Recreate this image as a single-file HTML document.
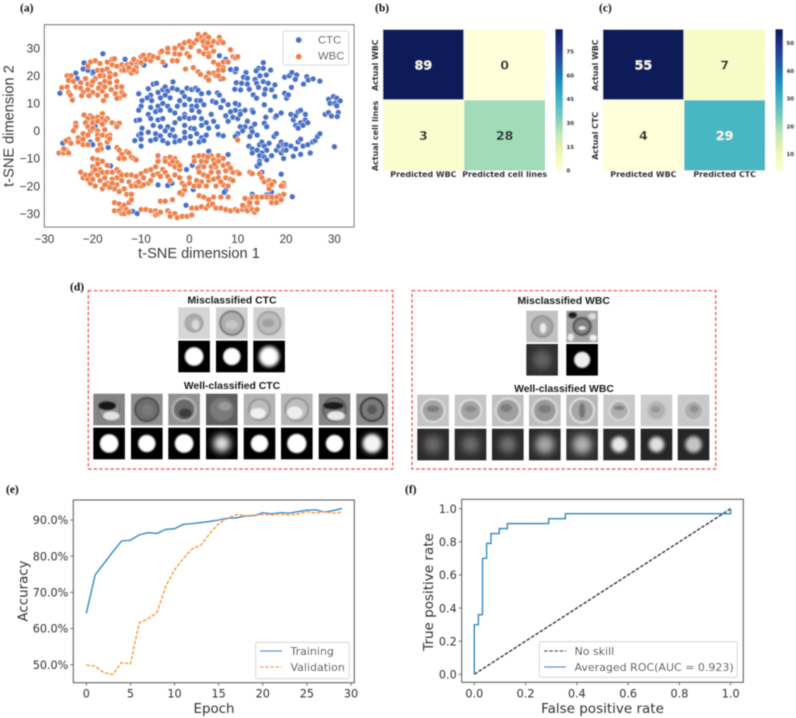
<!DOCTYPE html>
<html lang="en">
<head>
<meta charset="utf-8">
<title>Classification results figure</title>
<style>
html,body{margin:0;padding:0;background:#fff;}
#fig{display:block;width:796px;height:718px;}
text{font-family:"DejaVu Sans",sans-serif;}
.serif{font-family:"Liberation Serif",serif;font-weight:bold;font-size:11.5px;fill:#111;}
.ar{font-family:"Liberation Sans",sans-serif;fill:#3a3a3a;}
.dv{font-family:"DejaVu Sans",sans-serif;fill:#333;}
.hb{font-family:"DejaVu Sans",sans-serif;font-weight:bold;fill:#333;}
.ti{font-family:"Liberation Sans",sans-serif;font-weight:bold;font-size:10.4px;fill:#1a1a1a;text-anchor:middle;}
</style>
</head>
<body>
<svg id="fig" xmlns="http://www.w3.org/2000/svg" width="796" height="718" viewBox="0 0 796 718">
<defs>
<filter id="soft" x="-5%" y="-5%" width="110%" height="110%"><feGaussianBlur stdDeviation="0.4"/></filter>
<filter id="b1" x="-30%" y="-30%" width="160%" height="160%"><feGaussianBlur stdDeviation="0.7"/></filter>
<filter id="b2" x="-40%" y="-40%" width="180%" height="180%"><feGaussianBlur stdDeviation="1.8"/></filter>
<filter id="b4" x="-60%" y="-60%" width="220%" height="220%"><feGaussianBlur stdDeviation="3.6"/></filter>
</defs>
<rect width="796" height="718" fill="#fff"/>
<g filter="url(#soft)">
<text class="serif" x="20" y="11.5">(a)</text>
<text class="serif" x="375" y="11.5">(b)</text>
<text class="serif" x="599" y="11.5">(c)</text>
<text class="serif" x="70" y="290.5">(d)</text>
<text class="serif" x="6" y="493">(e)</text>
<text class="serif" x="405" y="493">(f)</text>
<g id="panel-a"></g>
<g id="panel-b"></g>
<g id="panel-c"></g>
<g id="panel-d">
<rect x="88.3" y="290.7" width="304.4" height="178.3" fill="none" stroke="#f4474f" stroke-width="1.2" stroke-dasharray="3.4 2.2"/>
<rect x="412" y="290.7" width="303.7" height="178.3" fill="none" stroke="#f4474f" stroke-width="1.2" stroke-dasharray="3.4 2.2"/>
<text class="ti" x="232" y="303.5">Misclassified CTC</text>
<text class="ti" x="232" y="389">Well-classified CTC</text>
<text class="ti" x="563.7" y="304">Misclassified WBC</text>
<text class="ti" x="564" y="392">Well-classified WBC</text>
</g>
<g id="panel-e"></g>
<g id="panel-f"></g>
</g>
</svg>
<script>
/* ---------- panel (a) data: t-SNE coordinates ---------- */
const ctcPoints = [
[-26.8,13.7],[-23.5,21],[-23.2,19],[-22,22.5],[-21.8,24.7],[-21,22],[-20,21],[-19.8,21.5],[-17.9,28],[-13.3,26],[-10.8,24.5],[-9.4,23.9],[-8,25.8],[-5,23.8],[6.2,27.3],[7.5,26],[6.5,18.9],[8.5,22.3],[9.5,21.5],[9.7,22.5],
[-8.5,15.3],[-7.5,17],[-6.8,17.3],[-6.5,14],[-8,13],[-10.5,13.5],[-9.8,11],[-8.7,12],[-7.8,11],[-5.5,15],[-5,16],[-4.5,14.5],[-3.5,15.5],[-3.4,17.8],[-2.5,15],[-1.5,14],[-0.5,15.5],[0.5,15],[1.3,15.5],[1.8,14.8],[2.5,13.5],
[-6,12],[-5,13],[-4,12],[-2,11],[-1,12.5],[0,11.5],[1.5,11],[2.3,11],[4,13.8],[5.8,13.8],[6.2,13],[4.8,10.8],[5.5,10.3],[-10,9],[-8,8.5],[-6.5,9],[-5.5,10],[-4.5,9],[-2.5,9],[-1,9.5],[0.5,9],[1.5,9],[3,9.5],
[-10.5,7.5],[-8.5,6],[-7,7],[-6,7.5],[-4,7.5],[-3,6.5],[-1,6],[0.5,7.5],[2,7],[4.5,6],[-11,3.8],[-10.3,4],[-8,4.5],[-6.5,4],[-5.5,4.5],[-3,3],[-2,4.5],[-1,5],[0,4.5],[1,4.8],[2.5,4.5],[3.5,3],[5,3.5],
[-9.8,1],[-7.5,2],[-6,1.5],[-4.5,1.5],[-3.5,0.5],[-1,2],[0.3,1],[1,0.8],[2.5,2],[4,1],[5.8,1.5],[-10.5,-1.5],[-10,-1],[-8.5,-0.5],[-7,-1],[-6,-1.8],[-5,0],[-4,-1.5],[-3,-2],[-1,-0.5],[0.2,-2],[1.5,-1],[2.5,-2.5],[3.5,-1.5],
[-11.3,-3.5],[-10,-3],[-8,-3.5],[-7,-3],[-5.5,-3.5],[-4.5,-4.5],[-3,-4],[-2,-3.5],[-1,-2.5],[0.2,-4.5],[2,-4],[3,-3.5],[-10,-5.5],[4,-7.4],[6,-1.3],[7,-1.8],
[10.2,9.5],[9.5,10],[8,9.5],[7,11],[6.5,8.5],[10.5,7],[9.5,7.5],[8.5,7],[11.5,7.5],[13,7.5],[13.2,6.8],[7.5,5.5],[9,5],[10,4.5],[8,3.5],[10.5,6],[12,3.5],[13.5,2.5],[11.5,1.5],[12.8,1],[10.5,1.5],[11,0],[10,-1],[9.5,-2],[15.5,2.8],[16,1.5],[15.8,5],[15.5,9.5],[17.8,5],[18,5.5],[16.8,7.5],[13,-0.3],[12.5,-2],[14,-1.5],[17.5,-2],[18,-1],
[12.3,-5.5],[13,-6.5],[13,-8],[14,-7],[14.5,-5],[15,-4],[15.5,-5.5],[16,-7],[16.5,-4.5],[15,-8],[14.5,-9],[15.5,-9.5],[16,-10.5],[14.5,-11],[14,-12.8],[14.5,-12],[15,-15],[17,-9],[18,-7],[18.5,-5.5],[19,-4],[19.5,-5],[20,-5],[19,-8],[19.5,-7],[19.5,-10],[20,-7],[21,-5.5],[21.5,-9.2],[22,-6.5],[23,-8.5],[22.5,-4],[23,-3],[23.5,-5.5],[25,-8],[24.5,-5],[25.5,-4],[26,-3.5],[26.5,-2],[27,-1],[22,2],[22.5,1],[23,3],[23.5,2],[24,4],[24.5,3],[21.5,4],[21,6],[22,5.5],[22.5,7],[23,7.5],[24,6],[19,6.5],
[15.3,24.8],[14.3,22.7],[15.3,22.7],[16.8,22.1],[13.8,21.8],[11.7,21.2],[11.2,19.5],[12,19.1],[13.6,18.7],[14.6,20],[15.9,20.3],[9.7,17.5],[10.8,17.3],[12,17],[13.9,17.3],[15.3,17.9],[16.3,17.3],[17.7,16.7],[9.4,15.1],[10.6,14.9],[12.4,15.1],[14.3,15.8],[15.7,15.1],[17,14.9],[13.2,13.1],[13.9,11.9],[15.5,13.3],[17.7,12.5],
[19.7,19.5],[20.7,20],[21.2,21.2],[22.2,20.3],[21.9,18.7],[24.3,19.7],[23.6,17],[24.6,18.5],[25.6,18.9],[27,18.1],[21.1,15.8],[19.7,13.7],[20.1,11.9],[20.5,13.1],
[28.8,11.5],[29.8,12.5],[30.5,11.9],[31.2,10.9],[29.1,10],[30.1,10],[30.5,9.1],[28.1,6],[28.8,6.7],[29.4,5.4],[30.8,6.7],[30.6,5.2],[30,-5.7],
[-26.2,-4.4],[-19.5,1.7],[-20.5,-4],[-20,-5],[-16.8,-6],[-16.3,-12.7],[-6.5,-19.6],[-4.5,-19.8],[-3.6,-19],[-0.6,-14],[0.6,-12.5],[2.2,-13],[2.8,-15.8],[0.8,-21.3],[-0.7,-27],[-11.7,-29.2],[-10.8,-30],[8,-8.6],[7.5,-21.5],[7.2,-22.3],[13,-23],[16,-23.2],[17,-22.2],[21.3,-23.9],[19,-15.7]
];
const wbcPoints = [
[-25.3,20],[-24.5,20],[-25,18.3],[-24,18],[-26.4,15.7],[-25.3,16],[-25,14],[-24.6,13],[-24.2,11.2],[-22.5,17.5],[-23.5,16],[-22.5,15.5],[-22,14],[-22.3,12.8],[-21,17],[-21,15],[-20.2,16.8],[-20,14],[-19.5,25.5],[-20.5,25],[-21,23.5],[-19,22],[-19.5,19],[-18.5,17],[-18,22],[-17.8,20],[-17.5,18],[-17,22.5],[-18.8,15.5],[-19,13],[-18,14.5],[-17.5,16],[-17.2,12.8],[-17.8,11],[-16.5,21],[-16.5,17.5],[-16.2,15],[-16,24],[-16,26],[-15.5,26.2],[-15,23.5],[-15.3,20.5],[-15,18],[-15,16],[-15.3,13.5],[-14.5,12],[-14,14],[-14,16],[-15,11.8],[-13.5,13],[-20.8,12.8],[-17,25],[-18.5,24.5],[-14,22],[-14,24],[-16.5,19.5],[-18.5,20],[-20,18],[-21.5,19],
[-13.5,23],[-13.5,22],[-12.8,24],[-12.5,22],[-12,24.5],[-12,21],[-11.5,26],[-11,23],[-11,21.5],[-10.5,25],[-10,24.8],[-10,27],[-9.5,27.5],[-9,26],[-8.2,27.5],[-8,25.5],[-7.5,27],[-6.5,26.5],[-6,28.5],[-5.7,29],[-5.5,25],[-4.5,28.5],[-4.5,30],[-3.5,25.5],[-3,28],[-3,30],[-2.5,25.5],[-2,27.8],[-2,31],[-1.5,30],[-1,32],[-0.5,28],[0,27],[0,32.5],[0.3,30.5],[1,32],[1.5,33],[1.8,35],[2.5,34],[3,33],[3.3,35],[4,34],[3,31],[2,29],[3,28],[3.5,30],[4.5,31],[4,28],[5,32.5],[6,32],[6.2,34],[6.5,32.5],[7,32],[4,27],[5,29],[-12.5,23],[-11.5,22],[2.8,32.5],[3.8,32],
[5,25],[6,24],[7,25],[7,23],[8,25],[8.5,29.5],[9,27],[9.5,26.5],[10,27],[6,22],[7,22],[5,21],[4,21],[5.5,20],[3.5,19.5],[4,18.5],[6,20],[7,19],[-0.8,22.5],[0.8,23],[1.8,21.5],[2.3,20.5],
[-21.8,5.8],[-20.5,5.5],[-21,4.5],[-20,4.8],[-19,5],[-18,6.3],[-18,4.5],[-17,4.5],[-17.5,3.5],[-16,3],[-15,2.5],[-14.5,2.8],[-15,1.5],[-21.5,3],[-20,3],[-19,3.5],[-18,2.5],[-23.5,2.8],[-23.5,1.5],[-24,0],[-21,1.5],[-20.5,0],[-19,0],[-17.5,0.5],[-16.5,-1.5],[-22,-1],[-21,-1.5],[-23,-2.5],[-19,-1.5],[-17,-2],[-25,-3],[-25.5,-3.5],[-23,-4],[-24.5,-4.5],[-22,-5],[-21,-5],[-19,-3],[-18.5,-5],[-18.2,-6.5],[-17,-4],[-16.5,-2.8],[-27,-8],[-26,-8],[-25.5,-7],[-26,-6.5],[-25,-8],[-19,-7],[-18,-1.5],[-20,1],[-22,-3],
[-15,-6],[-14.5,-7],[-14,-8.5],[-13,-7.5],[-12.5,-8],[-12,-9.5],[-11.5,-10],[-11,-10.5],[-14.5,-10],[-13.5,-10],
[-22.5,-15],[-22,-17],[-21.5,-16],[-21,-17.5],[-20,-15],[-20,-13],[-20,-10],[-19,-10.5],[-19,-12],[-18.5,-14],[-19,-16],[-18.5,-18],[-18,-15],[-18,-11],[-17.5,-17],[-17,-15],[-17,-19],[-16,-15],[-15,-14],[-15,-17],[-15,-19.5],[-15.5,-21],[-16.5,-20.5],[-18,-21],[-19.5,-20],[-20.5,-19],[-14.5,-15],[-14,-16],[-14,-18],[-14.5,-22],[-20.5,-16],[-19.5,-14],[-17,-12.5],[-16,-17.5],[-17.5,-19.5],[-16,-19],[-20,-17.5],[-13.5,-21],[-13,-23],[-12,-23],
[-13,-16],[-12.5,-18.5],[-12,-16],[-12,-20],[-11,-19],[-11,-20],[-11,-16.5],[-10,-15.5],[-10,-20],[-9.5,-17],[-9,-14.5],[-8.5,-19],[-8,-18],[-8,-14],[-7.5,-16],[-7,-13],[-6.5,-11],[-6.5,-15.5],[-6,-16.5],[-6.5,-9],[-5.5,-14],[-5,-10],[-5,-11],[-5,-15],[-4.5,-16.5],[-4,-9.5],[-4,-12],[-4,-18],[-3,-10],[-3,-13],[-3,-16],[-2.5,-11.5],[-2,-14],[-2,-17],[-1.5,-19],[-1,-20],[0,-17],[0,-19],[1,-20],[-10.5,-18.5],[-9.5,-19.5],[-3.5,-11],[-2,-12.5],
[1,-9.5],[2,-9],[3,-9],[4.5,-9],[6,-9],[7,-10],[1,-11],[2.5,-11],[3.5,-11],[5,-10.5],[6,-11],[1.8,-13.5],[3,-13],[4.5,-13],[5.5,-13],[7,-12.5],[8,-12],[2,-15],[3,-16],[4.5,-15],[6,-15],[7.5,-14.5],[9,-15],[10,-15],[10.3,-15.5],[1.5,-18],[2.5,-18.5],[4,-18],[5,-17.5],[6,-17],[7.5,-17],[8.5,-17.5],[9,-18],[2,-20],[3.5,-20],[5.5,-20],[7,-19.5],[8,-20],[-1.5,-22],[-1,-21.5],[-1.5,-23],[-2,-22.5],[3.8,-9.5],[5.2,-12],[8.5,-13.5],[6.5,-18.5],[3.8,-16.5],
[2,-23.5],[3,-24],[4,-25],[5,-24],[6.5,-24],[8,-24],[-6,-25.5],[-5,-25.5],[-3.5,-25],[-15.5,-26],[-14.5,-26.5],[-14,-28],[-13.5,-27],[-12.5,-26],[-12,-25],[-15.5,-29],[-14.5,-29],[-14,-30],[-13.5,-30],[-13,-28.5],[-12.5,-29.5],[-10,-28.5],[-9,-28.5],[-8,-29],[-7,-29],[-7,-30.5],[-6.5,-30],[-6,-29.5],[-4.5,-29],[-4,-30],[-4,-31],[-3,-30],[-2.5,-31.5],[-1.5,-31],[-0.5,-31],[0.5,-30.5],[0.5,-28],[1.5,-28],[2.5,-27.5],[3.5,-28],[4,-27],[4.8,-26.5],[5.5,-28],[6.5,-28],[7.5,-28.5],[8.5,-29],[9.5,-28.5],[10,-29],[11,-28.5],[11.5,-27.5],[12,-29],[12.5,-27],[13,-28.5],[13.5,-29.5],[14,-28.5],[11,-27],[12,-25],[11.5,-24.5],[12.5,-26],[13,-24],[14,-26],[14,-24],
[12.5,-15],[13,-15.5],[14.5,-15.5],[15,-17],[15.5,-18.5],[16.5,-18],[17,-19],[17.5,-18.5],[16.5,-20],[16.5,-21],[17,-19.5],[19.5,-19],[19.5,-20],[19,-20],[19.5,-23],[18.5,-23.5],[18,-24],[17,-25],[17,-26],[18,-26],[19,-25],[16,-24],[15,-24],[17,-24],[10,-3.3]
];
const tsneXTicks = [-30,-20,-10,0,10,20,30];
const tsneYTicks = [-30,-20,-10,0,10,20,30];

/* ---------- panels (b), (c) data ---------- */
const matrixB = [[89,0],[3,28]];
const matrixBRowLabels = ["Actual WBC","Actual cell lines"];
const matrixBColLabels = ["Predicted WBC","Predicted cell lines"];
const matrixBTicks = [0,15,30,45,60,75];
const matrixC = [[55,7],[4,29]];
const matrixCRowLabels = ["Actual WBC","Actual CTC"];
const matrixCColLabels = ["Predicted WBC","Predicted CTC"];
const matrixCTicks = [10,20,30,40,50];
const ylgnbu = ["#ffffd9","#edf8b1","#c7e9b4","#7fcdbb","#41b6c4","#1d91c0","#225ea8","#253494","#081d58"];

/* ---------- panel (e) data ---------- */
const epochs = [0,1,2,3,4,5,6,7,8,9,10,11,12,13,14,15,16,17,18,19,20,21,22,23,24,25,26,27,28,29];
const trainingAcc = [64.2,74.8,78,81.2,84.2,84.4,85.9,86.5,86.3,87.4,87.6,88.8,89,89.3,89.6,90,90.5,90.6,91.1,91.2,92,91.7,92,91.9,92.3,92.7,92.8,92.2,92.6,93.2];
const validationAcc = [49.9,49.6,47.8,47.3,50.6,50.2,61.6,62.7,64.4,71.7,76.2,79.4,82,83.1,86.3,89,90.4,91.5,91.2,91.3,91.5,91.4,91.7,91.4,91.6,92.3,91.9,92.3,91.9,92.2];
const epochTicks = [0,5,10,15,20,25,30];
const accuracyTicks = [50,60,70,80,90];

/* ---------- panel (f) data ---------- */
const rocFpr = [0,0,0.016,0.016,0.032,0.032,0.048,0.048,0.065,0.065,0.097,0.097,0.129,0.129,0.29,0.29,0.355,0.355,1,1];
const rocTpr = [0,0.30,0.30,0.36,0.36,0.70,0.70,0.79,0.79,0.85,0.85,0.88,0.88,0.91,0.91,0.94,0.94,0.97,0.97,1];
const noSkillFpr = [0,1];
const noSkillTpr = [0,1];
const rocTicks = [0,0.2,0.4,0.6,0.8,1];

/* ---------- panel (d) thumbnails: cell appearance parameters ---------- */
const misCtcGray = [
  {bg:"#d6d6d6",cell:"#aeaeae",ring:"#9c9c9c",r:.27,s:[[.05,.05,.12,.16,"#dcdcdc"]]},
  {bg:"#cfcfcf",cell:"#aeaeae",ring:"#666",r:.37,s:[[0,.05,.2,.14,"#c6c6c6"]]},
  {bg:"#d2d2d2",cell:"#bcbcbc",ring:"#979797",r:.36,s:[[-.03,0,.2,.13,"#a0a0a0"]]}];
const misCtcMask = [
  {bg:"#000",glow:"#fff",r:.29,blur:"b1"},
  {bg:"#000",glow:"#fff",r:.27,blur:"b1"},
  {bg:"#000",glow:"#fff",r:.32,blur:"b2"}];
const wellCtcGray = [
  {bg:"#858585",cell:"#8f8f8f",ring:"#777",r:.33,s:[[-.06,-.12,.28,.14,"#141414"],[.07,.2,.26,.14,"#e2e2e2"]]},
  {bg:"#8f8f8f",cell:"#6e6e6e",ring:"#3f3f3f",r:.37,s:[[.02,.02,.18,.18,"#7a7a7a"]]},
  {bg:"#929292",cell:"#6a6a6a",ring:"#c0c0c0",r:.36,s:[[.04,.12,.2,.15,"#3c3c3c"]]},
  {bg:"#5e5e5e",cell:"#7a7a7a",ring:"#737373",r:.36,s:[[.1,-.1,.2,.14,"#9a9a9a"]]},
  {bg:"#b4b4b4",cell:"#bcbcbc",ring:"#8a8a8a",r:.33,s:[[-.05,.12,.25,.17,"#f0f0f0"]]},
  {bg:"#b6b6b6",cell:"#bdbdbd",ring:"#8a8a8a",r:.36,s:[[-.07,.1,.25,.2,"#eeeeee"]]},
  {bg:"#858585",cell:"#777",ring:"#555",r:.36,s:[[-.03,-.12,.32,.12,"#1e1e1e"],[.05,.2,.28,.15,"#e8e8e8"]]},
  {bg:"#8a8a8a",cell:"#7a7a7a",ring:"#1c1c1c",r:.36,s:[[0,0,.15,.15,"#565656"]]}];
const wellCtcMask = [
  {bg:"#000",glow:"#fff",r:.29,blur:"b1"},
  {bg:"#000",glow:"#fff",r:.27,blur:"b1"},
  {bg:"#000",glow:"#fff",r:.29,blur:"b1"},
  {bg:"#000",glow:"#e8e8e8",r:.27,blur:"b4"},
  {bg:"#000",glow:"#fff",r:.27,blur:"b1"},
  {bg:"#000",glow:"#fff",r:.3,blur:"b1"},
  {bg:"#000",glow:"#fff",r:.27,blur:"b1"},
  {bg:"#060606",glow:"#f4f4f4",r:.3,blur:"b2"}];
const misWbcGray = [
  {bg:"#c2c2c2",cell:"#a8a8a8",ring:"#8a8a8a",r:.33,s:[[.03,.05,.1,.17,"#ececec"]]},
  {bg:"#a4a4a4",cell:"#808080",ring:"#3a3a3a",r:.27,s:[[0,.05,.12,.06,"#eeeeee"],[-.3,-.36,.14,.1,"#1c1c1c"],[.35,.36,.12,.1,"#f4f4f4"],[-.36,.34,.1,.12,"#eeeeee"],[.32,-.32,.12,.1,"#dddddd"]]}];
const misWbcMask = [
  {bg:"#2e2e2e",glow:"#626262",r:.3,blur:"b4"},
  {bg:"#000",glow:"#eee",r:.25,blur:"b1"}];
const wellWbcGray = [
  {bg:"#c4c4c4",cell:"#a2a2a2",ring:"#e2e2e2",r:.36,s:[[0,-.05,.2,.1,"#7c7c7c"]]},
  {bg:"#c6c6c6",cell:"#a4a4a4",ring:"#e4e4e4",r:.34,s:[[0,-.05,.18,.1,"#8a8a8a"]]},
  {bg:"#c0c0c0",cell:"#9e9e9e",ring:"#e2e2e2",r:.38,s:[[-.05,-.08,.18,.13,"#7e7e7e"]]},
  {bg:"#bebebe",cell:"#9a9a9a",ring:"#e2e2e2",r:.38,s:[[0,-.05,.2,.13,"#7c7c7c"]]},
  {bg:"#b8b8b8",cell:"#a6a6a6",ring:"#e8e8e8",r:.38,s:[[0,0,.1,.24,"#767676"]]},
  {bg:"#c8c8c8",cell:"#aeaeae",ring:"#dcdcdc",r:.3,s:[[0,-.08,.17,.07,"#818181"]]},
  {bg:"#cdcdcd",cell:"#b0b0b0",ring:"#c0c0c0",r:.28,s:[[-.03,-.03,.15,.1,"#979797"]]},
  {bg:"#c8c8c8",cell:"#aeaeae",ring:"#d2d2d2",r:.31,s:[[.02,-.05,.14,.12,"#909090"]]}];
const wellWbcMask = [
  {bg:"#2c2c2c",glow:"#6a6a6a",r:.28,blur:"b4"},
  {bg:"#2c2c2c",glow:"#6c6c6c",r:.28,blur:"b4"},
  {bg:"#2a2a2a",glow:"#727272",r:.27,blur:"b4"},
  {bg:"#2a2a2a",glow:"#a8a8a8",r:.3,blur:"b4"},
  {bg:"#2e2e2e",glow:"#b4b4b4",r:.3,blur:"b4"},
  {bg:"#2a2a2a",glow:"#e8e8e8",r:.25,blur:"b2"},
  {bg:"#262626",glow:"#e0e0e0",r:.24,blur:"b2"},
  {bg:"#262626",glow:"#c4c4c4",r:.26,blur:"b2"}];

const NS = "http://www.w3.org/2000/svg";
function mk(parent, tag, attrs, txt) {
  const el = document.createElementNS(NS, tag);
  for (const k in attrs) el.setAttribute(k, attrs[k]);
  if (txt !== undefined) el.textContent = txt;
  parent.appendChild(el);
  return el;
}
function linear(d0, d1, r0, r1) { return v => r0 + (v - d0) * (r1 - r0) / (d1 - d0); }

/* ---------- panel (a) ---------- */
(function () {
  const g = document.getElementById("panel-a");
  const x = linear(-30, 30, 44.4, 334.4), y = linear(-30, 30, 213.6, 48.3);
  const frame = mk(g, "rect", {x: 44.4, y: 24.7, width: 309.6, height: 202.3, fill: "#fff", stroke: "#666", "stroke-width": 1});
  
  
  const dots = ctcPoints.map(p => ["#4573c9", p]).concat(wbcPoints.map(p => ["#ee8245", p]));
  dots.forEach(d => {
    const c = mk(g, "circle", {cx: x(d[1][0]).toFixed(1), cy: y(d[1][1]).toFixed(1), r: 3, fill: d[0], stroke: "#fff", "stroke-width": 0.45});
    
    
  });
  tsneXTicks.forEach(t => {
    const l = mk(g, "text", {class: "ar", x: x(t), y: 243, "font-size": 11.6, "text-anchor": "middle"}, String(t).replace("-", "\u2212"));
    
    
  });
  tsneYTicks.forEach(t => {
    const l = mk(g, "text", {class: "ar", x: 40, y: y(t) + 4.2, "font-size": 12, "text-anchor": "end"}, String(t).replace("-", "\u2212"));
    
    
  });
  const xt = mk(g, "text", {class: "ar", x: 199, y: 258, "font-size": 14.6, "text-anchor": "middle"}, "t-SNE dimension 1");
  
  
  const yt = mk(g, "text", {class: "ar", x: 0, y: 0, "font-size": 14.6, "text-anchor": "middle", transform: "translate(13.5,126) rotate(-90)"}, "t-SNE dimension 2");
  
  
  const lg = mk(g, "g", {});
  
  
  mk(lg, "rect", {x: 283, y: 31, width: 65.5, height: 34, rx: 2, fill: "#fff", stroke: "#ccc", "stroke-width": 0.8});
  mk(lg, "circle", {cx: 298.7, cy: 40, r: 3, fill: "#4573c9"});
  mk(lg, "circle", {cx: 298.7, cy: 56.7, r: 3, fill: "#ee8245"});
  mk(lg, "text", {class: "ar", x: 318, y: 43.5, "font-size": 11.3}, "CTC");
  mk(lg, "text", {class: "ar", x: 318, y: 59.7, "font-size": 11.3}, "WBC");
})();

/* ---------- panels (b), (c) ---------- */
function cmap(t) {
  const p = Math.max(0, Math.min(1, t)) * (ylgnbu.length - 1);
  const i = Math.min(Math.floor(p), ylgnbu.length - 2), f = p - i;
  const h = c => [1, 3, 5].map(o => parseInt(c.substr(o, 2), 16));
  const a = h(ylgnbu[i]), b = h(ylgnbu[i + 1]);
  return "rgb(" + a.map((v, k) => Math.round(v + (b[k] - v) * f)).join(",") + ")";
}
function heatmap(id, m, rows, cols, ticks, x0, rowLabelX, cbX, gradId) {
  const g = document.getElementById(id);
  const top = 29.3, cw = 81.3, ch = 70.7;
  const vals = m[0].concat(m[1]);
  const vmin = Math.min.apply(null, vals), vmax = Math.max.apply(null, vals);
  m.forEach((row, r) => row.forEach((v, c) => {
    const cell = mk(g, "rect", {x: x0 + c * cw, y: top + r * ch, width: cw, height: ch, fill: cmap((v - vmin) / (vmax - vmin)), stroke: "#fff", "stroke-width": 0.5});
    
    
    const t = (v - vmin) / (vmax - vmin);
    const a = mk(g, "text", {class: "hb", x: x0 + (c + .5) * cw, y: top + (r + .5) * ch + 4.6, "font-size": 12.6, "text-anchor": "middle", style: "fill:" + (t > .45 ? "#f5f7f2" : "#262626")}, v);
    
    
  }));
  cols.forEach((s, c) => {
    const l = mk(g, "text", {class: "hb", x: x0 + (c + .5) * cw, y: 177, "font-size": 7.9, "text-anchor": "middle"}, s);
    
    
  });
  rows.forEach((s, r) => {
    const l = mk(g, "text", {class: "hb", x: 0, y: 0, "font-size": 7.9, "text-anchor": "middle", transform: "translate(" + rowLabelX + "," + (top + (r + .5) * ch + 0.5) + ") rotate(-90)"}, s);
    
    
  });
  const h = ch * 2, y = linear(vmin, vmax, top + h, top);
  const defs = document.querySelector("defs");
  const lg = mk(defs, "linearGradient", {id: gradId, x1: 0, y1: 1, x2: 0, y2: 0});
  ylgnbu.forEach((c, i) => mk(lg, "stop", {offset: i / (ylgnbu.length - 1), "stop-color": c}));
  const bar = mk(g, "rect", {x: cbX, y: top, width: 7.2, height: h, fill: "url(#" + gradId + ")"});
  
  
  ticks.forEach(t => {
    const l = mk(g, "text", {class: "hb", x: cbX + 11, y: y(t) + 2, "font-size": 5.4}, t);
    
    
  });
}
heatmap("panel-b", matrixB, matrixBRowLabels, matrixBColLabels, matrixBTicks, 382.7, 378, 555.5, "cb-b");
heatmap("panel-c", matrixC, matrixCRowLabels, matrixCColLabels, matrixCTicks, 602.7, 598, 775.5, "cb-c");

/* ---------- panel (d) ---------- */
function grayThumb(p, px, py, s) {
  const g = mk(document.getElementById("panel-d"), "g", {});
  
  
  mk(g, "rect", {x: px, y: py, width: s, height: s, fill: p.bg});
  const cx = px + s / 2, cy = py + s / 2, r = p.r * s;
  mk(g, "circle", {cx, cy, r, fill: p.cell, stroke: p.ring, "stroke-width": 1.7, filter: "url(#b1)"});
  p.s.forEach(q => {
    mk(g, "ellipse", {cx: cx + q[0] * s, cy: cy + q[1] * s, rx: q[2] * s, ry: q[3] * s, fill: q[4], filter: "url(#b1)"});
  });
}
function maskThumb(p, px, py, s) {
  const g = mk(document.getElementById("panel-d"), "g", {});
  
  
  mk(g, "rect", {x: px, y: py, width: s, height: s, fill: p.bg});
  mk(g, "circle", {cx: px + s / 2, cy: py + s / 2, r: p.r * s, fill: p.glow, filter: "url(#" + p.blur + ")"});
}
const S = 31.6;
const misCtcX = [178.3, 216, 253.3];
const wellCtcX = [93.3, 131, 168.3, 206, 243.7, 281, 318.7, 356.3];
const misWbcX = [526.3, 566.3];
const wellWbcX = [417.3, 454.7, 492, 529, 566.3, 603.3, 640.7, 677.7];
misCtcGray.forEach((p, i) => grayThumb(p, misCtcX[i], 307.3, S));
misCtcMask.forEach((p, i) => maskThumb(p, misCtcX[i], 340.7, S));
wellCtcGray.forEach((p, i) => grayThumb(p, wellCtcX[i], 393.7, S));
wellCtcMask.forEach((p, i) => maskThumb(p, wellCtcX[i], 427.7, S));
misWbcGray.forEach((p, i) => grayThumb(p, misWbcX[i], 310.7, S));
misWbcMask.forEach((p, i) => maskThumb(p, misWbcX[i], 344, S));
wellWbcGray.forEach((p, i) => grayThumb(p, wellWbcX[i], 394.7, S));
wellWbcMask.forEach((p, i) => maskThumb(p, wellWbcX[i], 428.7, S));

/* ---------- panels (e), (f) ---------- */
function polyline(g, xs, ys, fx, fy, color, width, dash, name) {
  const pts = xs.map((v, i) => fx(v).toFixed(2) + "," + fy(ys[i]).toFixed(2)).join(" ");
  const attrs = {points: pts, fill: "none", stroke: color, "stroke-width": width};
  if (dash) attrs["stroke-dasharray"] = dash;
  const pl = mk(g, "polyline", attrs);
  
  
}
function axesFrame(g, x0, y0, w, h, xTicks, yTicks, fx, fy, fmtX, fmtY, fs) {
  const fr = mk(g, "rect", {x: x0, y: y0, width: w, height: h, fill: "none", stroke: "#555", "stroke-width": 1});
  
  
  xTicks.forEach(t => {
    mk(g, "line", {x1: fx(t), x2: fx(t), y1: y0 + h, y2: y0 + h + 3, stroke: "#555", "stroke-width": 0.8});
    const l = mk(g, "text", {class: "dv", x: fx(t), y: y0 + h + 15, "font-size": fs, "text-anchor": "middle"}, fmtX(t));
    
    
  });
  yTicks.forEach(t => {
    mk(g, "line", {x1: x0 - 3, x2: x0, y1: fy(t), y2: fy(t), stroke: "#555", "stroke-width": 0.8});
    const l = mk(g, "text", {class: "dv", x: x0 - 5, y: fy(t) + 4.2, "font-size": fs, "text-anchor": "end"}, fmtY(t));
    
    
  });
}
(function () {
  const g = document.getElementById("panel-e");
  const x = linear(0, 30, 86.3, 351), y = linear(50, 90, 664.7, 520);
  polyline(g, epochs, trainingAcc, x, y, "#2f86c1", 1.35, null, "training-line");
  polyline(g, epochs, validationAcc, x, y, "#f79533", 1.35, "3.6 1.6", "validation-line");
  axesFrame(g, 73.3, 500, 281, 182.7, epochTicks, accuracyTicks, x, y, t => t, t => t.toFixed(1) + "%", 11.2);
  const xt = mk(g, "text", {class: "dv", x: 214, y: 713, "font-size": 13.4, "text-anchor": "middle"}, "Epoch");
  
  
  const yt = mk(g, "text", {class: "dv", x: 0, y: 0, "font-size": 13.4, "text-anchor": "middle", transform: "translate(27.5,591) rotate(-90)"}, "Accuracy");
  
  
  const lg = mk(g, "g", {});
  
  
  mk(lg, "rect", {x: 255.7, y: 642.3, width: 93.6, height: 36.4, rx: 2, fill: "#fff", stroke: "#ccc", "stroke-width": 0.8});
  mk(lg, "line", {x1: 260, x2: 282, y1: 651, y2: 651, stroke: "#2f86c1", "stroke-width": 1.35});
  mk(lg, "line", {x1: 260, x2: 282, y1: 667, y2: 667, stroke: "#f79533", "stroke-width": 1.35, "stroke-dasharray": "3.6 1.6"});
  mk(lg, "text", {class: "dv", x: 290.5, y: 655, "font-size": 11}, "Training");
  mk(lg, "text", {class: "dv", x: 290.5, y: 671, "font-size": 11}, "Validation");
})();
(function () {
  const g = document.getElementById("panel-f");
  const x = linear(0, 1, 474.3, 730.7), y = linear(0, 1, 674.3, 508.7);
  polyline(g, noSkillFpr, noSkillTpr, x, y, "#2b2b2b", 1.3, "3.6 1.6", "no-skill-line");
  polyline(g, rocFpr, rocTpr, x, y, "#2f86c1", 1.35, null, "roc-line");
  axesFrame(g, 461.7, 499.3, 281.6, 183, rocTicks, rocTicks, x, y, t => t.toFixed(1), t => t.toFixed(1), 11.2);
  const xt = mk(g, "text", {class: "dv", x: 602.5, y: 713, "font-size": 13.5, "text-anchor": "middle"}, "False positive rate");
  
  
  const yt = mk(g, "text", {class: "dv", x: 0, y: 0, "font-size": 13.5, "text-anchor": "middle", transform: "translate(433,592) rotate(-90)"}, "True positive rate");
  
  
  const lg = mk(g, "g", {});
  
  
  mk(lg, "rect", {x: 539.3, y: 641.7, width: 198, height: 35.6, rx: 2, fill: "#fff", stroke: "#ccc", "stroke-width": 0.8});
  mk(lg, "line", {x1: 544, x2: 566, y1: 651, y2: 651, stroke: "#2b2b2b", "stroke-width": 1.3, "stroke-dasharray": "3.6 1.6"});
  mk(lg, "line", {x1: 544, x2: 566, y1: 667, y2: 667, stroke: "#2f86c1", "stroke-width": 1.35});
  mk(lg, "text", {class: "dv", x: 574.5, y: 655, "font-size": 11}, "No skill");
  mk(lg, "text", {class: "dv", x: 574.5, y: 671, "font-size": 11}, "Averaged ROC(AUC = 0.923)");
})();
</script>
</body>
</html>
